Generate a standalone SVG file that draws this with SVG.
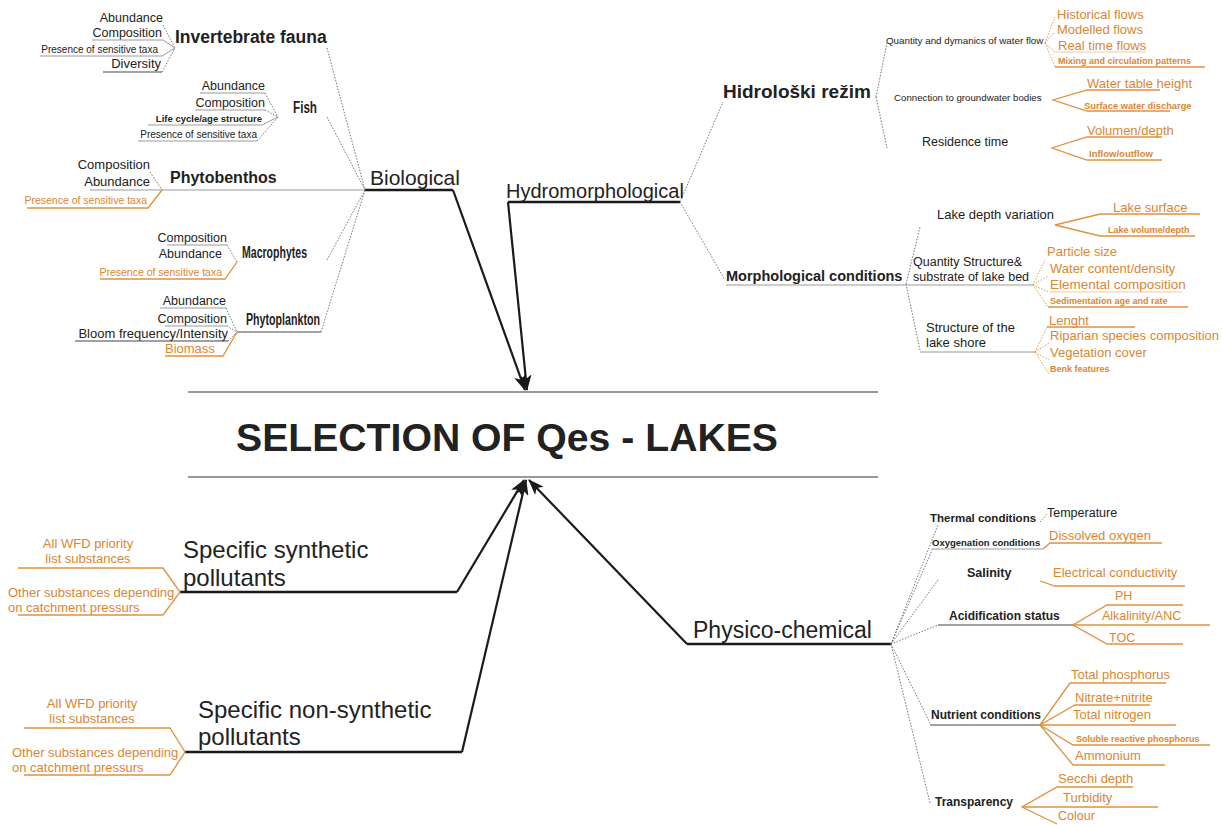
<svg xmlns="http://www.w3.org/2000/svg" width="1222" height="825" viewBox="0 0 1222 825">
<style>
text{font-family:"Liberation Sans",Arial,sans-serif;fill:#222}
.b{font-weight:bold}
.o{fill:#DA8632}
.e{text-anchor:end}
.m{text-anchor:middle}
.gl{stroke:#9a9a9a;stroke-width:1;fill:none}
.dl{stroke:#444;stroke-width:1.2;fill:none}
.ol{stroke:#E0913F;stroke-width:1.3;fill:none}
.dt{stroke:#666;stroke-width:0.9;stroke-dasharray:1.5 1.5;fill:none}
.od{stroke:#E0913F;stroke-width:0.9;stroke-dasharray:1.5 1.5;fill:none}
.tk{stroke:#1a1a1a;stroke-width:2.4;fill:none}
.ar{stroke:#1a1a1a;stroke-width:2.2;fill:none;marker-end:url(#ah)}
</style>
<defs>
<marker id="ah" markerUnits="userSpaceOnUse" markerWidth="16" markerHeight="12" refX="15" refY="6" orient="auto">
<path d="M0,0 L16,6 L0,12 L4,6 z" fill="#1a1a1a"/>
</marker>
</defs>
<rect width="1222" height="825" fill="#fff"/>

<g id="center">
<line x1="188" y1="392" x2="878" y2="392" stroke="#777" stroke-width="1.3"/>
<line x1="188" y1="477" x2="878" y2="477" stroke="#777" stroke-width="1.3"/>
<text x="236" y="451" class="b" font-size="38" textLength="542" lengthAdjust="spacingAndGlyphs">SELECTION OF Qes - LAKES</text>
</g>

<g id="connectors">
<polyline class="tk" points="365,190 453,190"/>
<line class="ar" x1="453" y1="190" x2="525" y2="390"/>
<polyline class="tk" points="680,202 508,202"/>
<line class="ar" x1="508" y1="202" x2="527" y2="390"/>
<polyline class="tk" points="180,592 457,592"/>
<line class="ar" x1="457" y1="592" x2="524" y2="480"/>
<polyline class="tk" points="185,752 462,752"/>
<line class="ar" x1="462" y1="752" x2="526" y2="480"/>
<polyline class="tk" points="891,644 687,644"/>
<line class="ar" x1="687" y1="644" x2="529" y2="480"/>
<line class="dt" x1="327" y1="48" x2="365" y2="190"/>
<line class="dt" x1="327" y1="117" x2="365" y2="190"/>
<line class="gl" x1="162" y1="190" x2="365" y2="190"/>
<line class="dt" x1="327" y1="260" x2="365" y2="190"/>
<line class="dt" x1="321" y1="332" x2="365" y2="190"/>
<line class="dt" x1="680" y1="202" x2="723" y2="102"/>
<line class="dt" x1="680" y1="202" x2="725" y2="280"/>
<line class="dt" x1="876" y1="97" x2="887" y2="43"/>
<line class="dt" x1="876" y1="97" x2="887" y2="148"/>
<line class="dt" x1="906" y1="284" x2="920" y2="227"/>
<line class="dt" x1="906" y1="284" x2="920" y2="350"/>
<line class="dt" x1="891" y1="644" x2="938" y2="525"/>
<line class="dt" x1="891" y1="644" x2="933" y2="548"/>
<line class="dt" x1="891" y1="644" x2="938" y2="580"/>
<line class="dt" x1="891" y1="644" x2="938" y2="625"/>
<line class="dt" x1="891" y1="644" x2="930" y2="723"/>
<line class="dt" x1="891" y1="644" x2="930" y2="803"/>
</g>

<g id="biological">
<text x="370" y="185" font-size="21">Biological</text>
</g>

<g id="invertebrate-fauna">
<text x="175" y="43" class="b" font-size="17.5">Invertebrate fauna</text>
<text x="163" y="22" class="e" font-size="12.5">Abundance</text>
<text x="162" y="37" class="e" font-size="12.5">Composition</text>
<text x="158" y="53" class="e" font-size="10">Presence of sensitive taxa</text>
<text x="161" y="68" class="e" font-size="13">Diversity</text>
<line class="dt" x1="163" y1="25" x2="175" y2="48"/>
<polyline class="gl" points="92,40 163,40 175,48"/>
<polyline class="gl" points="40,56 162,56 175,48"/>
<polyline class="dl" points="103,72 162,72"/>
<line class="dt" x1="162" y1="72" x2="175" y2="48"/>
</g>

<g id="fish">
<text x="293" y="113" class="b" font-size="16" textLength="24" lengthAdjust="spacingAndGlyphs">Fish</text>
<text x="265" y="90" class="e" font-size="12.5">Abundance</text>
<text x="265" y="107" class="e" font-size="12.5">Composition</text>
<text x="262" y="122" class="e b" font-size="9.5">Life cycle/age structure</text>
<text x="257" y="138" class="e" font-size="10">Presence of sensitive taxa</text>
<polyline class="gl" points="200,93 265,93"/>
<line class="dt" x1="265" y1="93" x2="278" y2="117"/>
<polyline class="gl" points="195,110 265,110"/>
<line class="dt" x1="265" y1="110" x2="278" y2="117"/>
<polyline class="gl" points="148,125 262,125 278,117"/>
<polyline class="gl" points="138,141 257,141"/>
<line class="dt" x1="257" y1="141" x2="278" y2="117"/>
</g>

<g id="phytobenthos">
<text x="170" y="183" class="b" font-size="16">Phytobenthos</text>
<text x="150" y="169" class="e" font-size="13">Composition</text>
<text x="150" y="186" class="e" font-size="13">Abundance</text>
<text x="147" y="204" class="e o" font-size="10.5">Presence of sensitive taxa</text>
<line class="dt" x1="150" y1="172" x2="162" y2="190"/>
<polyline class="gl" points="90,190 162,190"/>
<polyline class="ol" points="27,208 148,208 162,190"/>
</g>

<g id="macrophytes">
<text x="242" y="258" class="b" font-size="16" textLength="65" lengthAdjust="spacingAndGlyphs">Macrophytes</text>
<text x="227" y="242" class="e" font-size="12.5">Composition</text>
<text x="222" y="258" class="e" font-size="12.5">Abundance</text>
<text x="222" y="276" class="e o" font-size="10.5">Presence of sensitive taxa</text>
<polyline class="gl" points="167,245 227,245"/>
<line class="dt" x1="227" y1="245" x2="237" y2="262"/>
<polyline class="ol" points="100,279 225,279 237,262"/>
</g>

<g id="phytoplankton">
<text x="246" y="325" class="b" font-size="16" textLength="74" lengthAdjust="spacingAndGlyphs">Phytoplankton</text>
<line class="dl" x1="237" y1="332" x2="321" y2="332"/>
<text x="226" y="305" class="e" font-size="12.5">Abundance</text>
<text x="227" y="323" class="e" font-size="12.5">Composition</text>
<text x="228" y="338" class="e" font-size="13">Bloom frequency/Intensity</text>
<text x="165" y="353" class="o" font-size="13">Biomass</text>
<polyline class="gl" points="160,308 226,308"/>
<line class="dt" x1="226" y1="308" x2="237" y2="332"/>
<polyline class="gl" points="165,326 227,326"/>
<line class="dt" x1="227" y1="326" x2="237" y2="332"/>
<polyline class="dl" points="75,341 228,341"/>
<line class="dt" x1="228" y1="341" x2="237" y2="332"/>
<polyline class="ol" points="165,356 223,356 237,332"/>
</g>

<g id="hydromorphological">
<text x="506" y="198" font-size="20">Hydromorphological</text>
</g>

<g id="hidroloski-rezim">
<text x="723" y="98" class="b" font-size="19">Hidrološki režim</text>
</g>

<g id="water-flow">
<text x="886" y="44" font-size="9.8">Quantity and dymanics of water flow</text>
<text x="1057" y="19" class="o" font-size="13">Historical flows</text>
<text x="1057" y="34" class="o" font-size="13">Modelled flows</text>
<text x="1058" y="50" class="o" font-size="13">Real time flows</text>
<text x="1058" y="64" class="o b" font-size="9">Mixing and circulation patterns</text>
<line class="od" x1="1045" y1="43" x2="1055" y2="17"/>
<line class="od" x1="1045" y1="43" x2="1055" y2="32"/>
<line class="od" x1="1045" y1="43" x2="1055" y2="52"/>
<line class="od" x1="1045" y1="43" x2="1055" y2="67"/>
<line x1="1056" y1="52" x2="1146" y2="52" stroke="#F2C9A0" stroke-width="1"/>
<line class="ol" x1="1055" y1="67" x2="1205" y2="67" stroke-width="0.9"/>
</g>

<g id="groundwater">
<text x="894" y="101" font-size="9.7">Connection to groundwater bodies</text>
<text x="1087" y="88" class="o" font-size="13">Water table height</text>
<text x="1084" y="109" class="o b" font-size="9.3">Surface water discharge</text>
<polyline class="ol" points="1160,90 1087,90 1053,100 1087,111 1170,111"/>
</g>

<g id="residence-time">
<text x="922" y="146" font-size="12.5">Residence time</text>
<text x="1087" y="135" class="o" font-size="13">Volumen/depth</text>
<text x="1089" y="157" class="o b" font-size="9.5">Inflow/outflow</text>
<polyline class="ol" points="1162,137 1087,137 1052,148 1087,160 1162,160"/>
</g>

<g id="morphological-conditions">
<text x="726" y="281" class="b" font-size="14.5">Morphological conditions</text>
<line class="gl" x1="726" y1="285" x2="1033" y2="285"/>
</g>

<g id="lake-depth">
<text x="937" y="219" font-size="13">Lake depth variation</text>
<text x="1113" y="212" class="o" font-size="13">Lake surface</text>
<text x="1108" y="233" class="o b" font-size="9">Lake volume/depth</text>
<polyline class="ol" points="1200,214 1100,214 1055,225 1100,236 1195,236"/>
</g>

<g id="lake-bed">
<text x="913" y="266" font-size="12.5">Quantity Structure&amp;</text>
<text x="913" y="281" font-size="12.5">substrate of lake bed</text>
<text x="1047" y="256" class="o" font-size="13">Particle size</text>
<text x="1050" y="273" class="o" font-size="13">Water content/density</text>
<text x="1050" y="289" class="o" font-size="13.5">Elemental composition</text>
<text x="1050" y="304" class="o b" font-size="9">Sedimentation age and rate</text>
<line class="od" x1="1033" y1="285" x2="1045" y2="260"/>
<line class="od" x1="1033" y1="285" x2="1048" y2="276"/>
<line class="od" x1="1033" y1="285" x2="1048" y2="292"/>
<line class="od" x1="1033" y1="285" x2="1048" y2="307"/>
<line x1="1050" y1="292" x2="1182" y2="292" stroke="#F2C9A0" stroke-width="1"/>
<line class="ol" x1="1048" y1="307" x2="1188" y2="307" stroke-width="1"/>
</g>

<g id="lake-shore">
<text x="926" y="332" font-size="13">Structure of the</text>
<text x="926" y="347" font-size="13">lake shore</text>
<line class="gl" x1="920" y1="352" x2="1035" y2="352" stroke="#ccc"/>
<text x="1049" y="325" class="o" font-size="13">Lenght</text>
<text x="1050" y="340" class="o" font-size="13">Riparian species composition</text>
<text x="1050" y="357" class="o" font-size="13">Vegetation cover</text>
<text x="1050" y="372" class="o b" font-size="9">Benk features</text>
<line class="od" x1="1035" y1="352" x2="1047" y2="327"/>
<line class="od" x1="1035" y1="352" x2="1049" y2="343"/>
<line class="od" x1="1035" y1="352" x2="1049" y2="360"/>
<line class="od" x1="1035" y1="352" x2="1049" y2="374"/>
<line class="ol" x1="1047" y1="327" x2="1135" y2="327" stroke-width="1"/>
</g>

<g id="synthetic-pollutants">
<text x="183" y="558" font-size="24">Specific synthetic</text>
<text x="183" y="586" font-size="24">pollutants</text>
<text x="88" y="548" class="m o" font-size="13">All WFD priority</text>
<text x="88" y="563" class="m o" font-size="13">list substances</text>
<text x="8" y="597" class="o" font-size="13">Other substances depending</text>
<text x="8" y="612" class="o" font-size="13">on catchment pressurs</text>
<polyline class="ol" points="18,568 163,568 180,592 163,615 18,615"/>
</g>

<g id="non-synthetic-pollutants">
<text x="198" y="718" font-size="24">Specific non-synthetic</text>
<text x="198" y="745" font-size="24">pollutants</text>
<text x="92" y="708" class="m o" font-size="13">All WFD priority</text>
<text x="92" y="723" class="m o" font-size="13">list substances</text>
<text x="12" y="757" class="o" font-size="13">Other substances depending</text>
<text x="12" y="772" class="o" font-size="13">on catchment pressurs</text>
<polyline class="ol" points="24,728 170,728 185,752 170,775 24,775"/>
</g>

<g id="physico-chemical">
<text x="693" y="638" font-size="23">Physico-chemical</text>
</g>

<g id="thermal">
<text x="930" y="522" class="b" font-size="11.5">Thermal conditions</text>
<text x="1047" y="517" font-size="12.5">Temperature</text>
<line class="dt" x1="1040" y1="522" x2="1047" y2="514"/>
</g>

<g id="oxygenation">
<text x="932" y="546" class="b" font-size="9.5">Oxygenation conditions</text>
<line class="gl" x1="932" y1="549" x2="1043" y2="549"/>
<text x="1049" y="540" class="o" font-size="13">Dissolved oxygen</text>
<polyline class="ol" points="1043,549 1050,543 1162,543"/>
</g>

<g id="salinity">
<text x="967" y="577" class="b" font-size="12.5">Salinity</text>
<text x="1053" y="577" class="o" font-size="13">Electrical conductivity</text>
<polyline class="ol" points="1040,581 1055,586 1185,586"/>
</g>

<g id="acidification">
<text x="949" y="620" class="b" font-size="12">Acidification status</text>
<line class="dl" x1="938" y1="625" x2="1073" y2="625" stroke="#555"/>
<text x="1115" y="600" class="o" font-size="12.5">PH</text>
<text x="1102" y="620" class="o" font-size="12.5">Alkalinity/ANC</text>
<text x="1109" y="642" class="o" font-size="12.5">TOC</text>
<polyline class="ol" points="1183,605 1107,605 1073,625 1107,644 1183,644"/>
<line class="ol" x1="1073" y1="625" x2="1210" y2="625"/>
</g>

<g id="nutrients">
<text x="931" y="719" class="b" font-size="12">Nutrient conditions</text>
<line class="dl" x1="930" y1="725" x2="1040" y2="725"/>
<text x="1071" y="679" class="o" font-size="13">Total phosphorus</text>
<text x="1075" y="702" class="o" font-size="13">Nitrate+nitrite</text>
<text x="1073" y="719" class="o" font-size="13">Total nitrogen</text>
<text x="1076" y="742" class="o b" font-size="9">Soluble reactive phosphorus</text>
<text x="1075" y="760" class="o" font-size="13">Ammonium</text>
<polyline class="ol" points="1040,725 1070,683 1166,683"/>
<polyline class="ol" points="1040,725 1075,705 1150,705"/>
<polyline class="ol" points="1040,725 1176,725"/>
<polyline class="ol" points="1040,725 1073,745 1210,745"/>
<polyline class="ol" points="1040,725 1073,765 1165,765"/>
</g>

<g id="transparency">
<text x="935" y="806" class="b" font-size="12">Transparency</text>
<text x="1058" y="783" class="o" font-size="13">Secchi depth</text>
<text x="1063" y="802" class="o" font-size="13">Turbidity</text>
<text x="1058" y="820" class="o" font-size="12.5">Colour</text>
<polyline class="ol" points="1133,787 1057,787 1022,807 1057,824"/>
<line class="ol" x1="1022" y1="807" x2="1158" y2="807"/>
</g>
</svg>
